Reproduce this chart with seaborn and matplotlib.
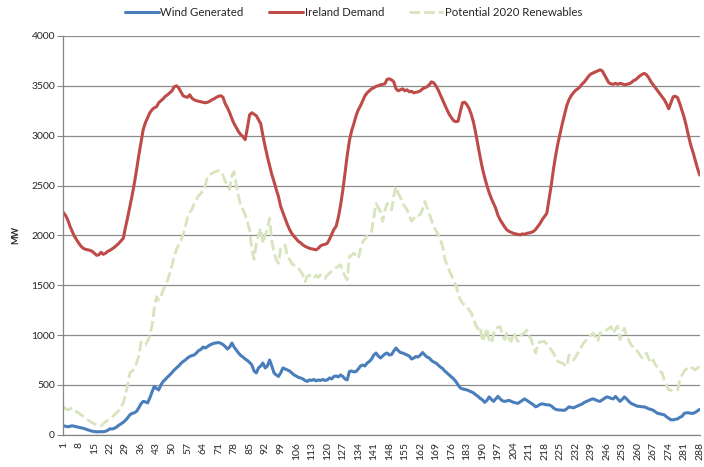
import numpy as np
import pandas as pd
import matplotlib
matplotlib.use("Agg")
import matplotlib.pyplot as plt
import matplotlib.patheffects as pe
import seaborn as sns

# ---------------------------------------------------------------------------
# Data: 288 five-minute intervals (MW)
# ---------------------------------------------------------------------------
wind_generated = [
    90, 85, 80, 85, 90, 85, 80, 75, 70, 65,
    58, 50, 42, 36, 32, 30, 30, 32, 30, 35,
    45, 60, 58, 65, 78, 95, 110, 125, 145, 170,
    200, 215, 220, 235, 270, 310, 335, 330, 320, 370,
    430, 485, 465, 450, 500, 535, 555, 580, 600, 625,
    650, 670, 690, 715, 735, 750, 770, 785, 795, 800,
    820, 845, 855, 880, 870, 885, 900, 910, 918, 922,
    925, 918, 905, 885, 860, 880, 920, 880, 850, 820,
    795, 780, 760, 745, 725, 700, 640, 620, 670, 690,
    720, 670, 690, 750, 690, 620, 600, 585, 620, 670,
    660, 650, 640, 620, 600, 590, 575, 570, 560, 545,
    535, 550, 545, 555, 540, 550, 545, 555, 545, 550,
    570, 560, 585, 590, 580, 600, 585, 560, 550, 635,
    640, 630, 635, 660, 690, 700, 690, 720, 735, 760,
    800, 820, 790, 770, 790, 810, 820, 800, 805, 840,
    870, 845, 825, 820, 810, 800, 790, 760, 770, 785,
    780, 800, 825, 800, 780, 770, 745, 730, 720, 700,
    680, 665, 640, 620, 600, 580, 560, 535, 500, 470,
    460, 455, 450, 440, 430, 420, 400, 385, 365, 350,
    325, 345, 380, 355, 335, 360, 385, 360, 340, 335,
    340, 345, 335, 325, 320, 315, 330, 345, 360, 345,
    330, 315, 300, 280, 290, 305, 310, 305, 300, 300,
    290, 270, 255, 250, 248, 245, 245, 260, 280, 275,
    270, 280, 290, 300, 310, 325, 335, 345, 355, 360,
    350, 340, 335, 350, 365, 380, 375, 365, 360, 385,
    360, 335, 355, 380, 360, 335, 315, 305, 295, 285,
    285, 280, 280, 270, 260, 255, 245, 230, 215, 210,
    205, 200, 180, 165, 150, 150, 155, 160, 175, 185,
    215, 220, 220, 215, 215, 225, 240, 255,
]

ireland_demand = [
    2230, 2200, 2155, 2090, 2040, 1990, 1955, 1920, 1890, 1870,
    1860, 1855, 1850, 1840, 1820, 1800, 1805, 1830, 1810, 1820,
    1840, 1850, 1865, 1880, 1900, 1920, 1945, 1970, 2080, 2180,
    2290, 2400, 2520, 2655, 2800, 2930, 3060, 3130, 3180, 3230,
    3260, 3280, 3290, 3330, 3350, 3370, 3395, 3410, 3430, 3450,
    3490, 3500, 3480, 3440, 3400, 3390, 3385, 3410, 3375, 3360,
    3350, 3345, 3340, 3335, 3330, 3335, 3345, 3360, 3370, 3385,
    3395, 3400, 3385, 3320, 3280, 3230, 3170, 3120, 3080, 3040,
    3010, 2990, 2960, 3080, 3210, 3230, 3215, 3200, 3160, 3120,
    3000, 2890, 2790, 2700, 2610, 2540, 2460, 2390, 2290, 2230,
    2170, 2110, 2060, 2020, 1990, 1965, 1940, 1925, 1905, 1890,
    1880, 1870, 1865, 1860, 1855, 1870, 1895, 1905, 1910, 1920,
    1960, 2010, 2060, 2090, 2180, 2300, 2450, 2620, 2800, 2950,
    3050, 3120, 3200, 3260, 3300, 3350, 3400, 3430, 3450, 3470,
    3480, 3495, 3500, 3510, 3515, 3520, 3565, 3570, 3560, 3540,
    3470, 3450, 3460, 3470, 3450, 3460, 3440, 3445, 3430, 3435,
    3440, 3450, 3470, 3480, 3490, 3510, 3540, 3530, 3500, 3460,
    3410, 3360, 3310, 3260, 3215, 3180, 3150, 3140, 3145, 3240,
    3330, 3335, 3310, 3270, 3210, 3130, 3020, 2900, 2780, 2670,
    2580, 2500, 2430, 2370, 2320, 2270, 2200, 2155, 2120, 2085,
    2055, 2040, 2030, 2020, 2015, 2010, 2005, 2015, 2010, 2020,
    2025, 2030, 2040, 2060, 2090, 2120, 2160, 2190, 2220, 2360,
    2500, 2660, 2800, 2920, 3020, 3120, 3210, 3300, 3360, 3400,
    3430, 3455, 3470, 3490, 3520, 3540, 3570, 3600, 3620, 3630,
    3640, 3650, 3660, 3650, 3610, 3570, 3530, 3520, 3515, 3525,
    3515, 3525, 3520, 3510, 3515, 3520, 3530, 3550, 3560, 3580,
    3600, 3615, 3625, 3610, 3580, 3540, 3510, 3480, 3450, 3420,
    3390, 3360, 3320, 3270, 3330, 3390, 3395, 3380, 3320, 3250,
    3180, 3090, 2990, 2900, 2830, 2750, 2670, 2605,
]

potential_2020 = [
    285, 260, 250, 260, 270, 250, 230, 215, 200, 185,
    170, 150, 135, 120, 110, 100, 95, 90, 110, 130,
    145, 160, 175, 200, 220, 245, 280, 320, 400, 500,
    620, 640, 660, 720, 790, 930, 920, 900, 940, 990,
    1100, 1270, 1385, 1350, 1390, 1450, 1500, 1550, 1620, 1700,
    1790, 1860, 1905, 1950, 2010, 2090, 2180, 2230, 2260, 2320,
    2360, 2400, 2420, 2450, 2500, 2590, 2610, 2620, 2635, 2640,
    2650, 2640, 2605, 2540, 2500, 2460, 2600, 2640, 2500, 2390,
    2300, 2260, 2205, 2130, 2055, 1860, 1760, 1920, 2000, 2070,
    1920, 2000, 2060, 2170, 1950, 1820, 1755, 1720, 1870, 1890,
    1905, 1790, 1760, 1720, 1700, 1680, 1670, 1640, 1605, 1535,
    1590, 1600, 1580, 1570, 1600, 1580, 1605, 1590, 1570, 1600,
    1620, 1640, 1660, 1675, 1690, 1705, 1640, 1590, 1555, 1790,
    1800, 1820, 1800, 1770, 1860, 1940, 1960, 2000, 2020, 2040,
    2180, 2320, 2280, 2240, 2140, 2250, 2320, 2290, 2255, 2400,
    2490, 2420, 2380, 2320, 2290, 2255, 2200, 2140, 2170, 2205,
    2200, 2210, 2260, 2340, 2280, 2220, 2150, 2090, 2050, 2005,
    1960, 1890, 1770, 1700, 1650, 1600, 1550, 1500, 1420, 1355,
    1320, 1300, 1285, 1250, 1220, 1160, 1100, 1060, 1085, 935,
    990, 1070, 950, 920, 1010, 1070, 1080, 1085, 1000, 955,
    1020, 960, 935, 1020, 980, 935, 980, 1010, 1020, 1050,
    990, 955, 880, 820, 920, 930, 935, 935, 910, 885,
    850, 820, 770, 735, 725, 720, 700, 685, 800, 780,
    750, 780, 820, 860, 900, 930, 955, 980, 1000, 1020,
    980, 935, 1020, 1030, 1040, 1050, 1070, 1085, 1020, 1060,
    1090, 955, 1010, 1070, 985, 950, 900, 880, 850, 835,
    800, 770, 800, 820, 760, 720, 750, 700, 670, 640,
    620, 550, 500, 450, 445, 445, 450, 450, 550, 600,
    640, 660, 680, 680, 665, 650, 670, 685,
]

interval = list(range(1, len(ireland_demand) + 1))
tick_labels = interval[::7]
y_ticks = [0, 500, 1000, 1500, 2000, 2500, 3000, 3500, 4000]

df = pd.DataFrame({
    "interval": interval,
    "Wind Generated": wind_generated,
    "Ireland Demand": ireland_demand,
    "Potential 2020 Renewables": potential_2020,
})

# ---------------------------------------------------------------------------
# Style
# ---------------------------------------------------------------------------
sns.set_style("white")
plt.rcParams["font.family"] = ["Lato", "DejaVu Sans"]

fig = plt.figure(figsize=(7.04, 4.67), dpi=100)
ax = fig.add_axes([0.09, 0.069, 0.904, 0.854])

shadow = [pe.SimpleLineShadow(offset=(1.2, -1.5), shadow_color="#7f7f7f", alpha=0.4),
          pe.Normal()]

series_style = [
    ("Wind Generated", "#4a7ebb", "-", 2.2),
    ("Ireland Demand", "#be4b48", "-", 2.2),
    ("Potential 2020 Renewables", "#d7e4bd", (0, (3.8, 1.5)), 2.0),
]
for name, color, ls, lw in series_style:
    sns.lineplot(data=df, x="interval", y=name, ax=ax, color=color,
                 linewidth=lw, linestyle=ls, label=name, path_effects=shadow)

# axes
ax.set_xlim(1, 288)
ax.set_ylim(0, 4000)
ax.set_yticks(y_ticks)
ax.set_xticks(tick_labels)
ax.set_xticklabels([str(t) for t in tick_labels], rotation=90)
ax.set_xticks(interval, minor=True)
ax.tick_params(axis="x", which="both", length=3, width=0.6, color="#868686",
               labelsize=7.5, labelcolor="#262626", pad=2)
ax.tick_params(axis="y", length=4, width=0.8, color="#868686",
               labelsize=7.5, labelcolor="#262626", pad=2, left=True)
ax.grid(axis="y", color="#8c8c8c", linewidth=0.9)
ax.set_axisbelow(True)
for side in ["top", "right"]:
    ax.spines[side].set_visible(False)
for side in ["left", "bottom"]:
    ax.spines[side].set_color("#868686")
    ax.spines[side].set_linewidth(0.9)

ax.set_xlabel("")
ax.set_ylabel("MW", fontsize=6.5, fontweight="bold", labelpad=8)

handles, labels = ax.get_legend_handles_labels()
for h in handles:
    h.set_path_effects([])
ax.legend(handles, labels, loc="center", bbox_to_anchor=(0.502, 0.974),
          bbox_transform=fig.transFigure, ncol=3, frameon=False, fontsize=8.2,
          handlelength=3.0, handletextpad=0.15, columnspacing=2.2)

fig.savefig("out.png", dpi=100)
